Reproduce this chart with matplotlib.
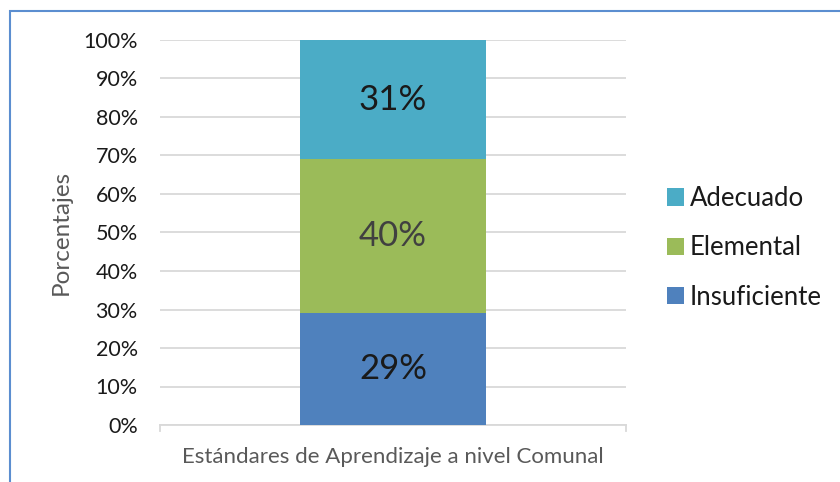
import matplotlib
matplotlib.use("Agg")
import matplotlib.pyplot as plt
from matplotlib.patches import Rectangle
from matplotlib.ticker import FuncFormatter

plt.rcParams['font.family'] = ['Lato', 'DejaVu Sans']

category = ["Estándares de Aprendizaje a nivel Comunal"]
series = ["Insuficiente", "Elemental", "Adecuado"]
values = [29, 40, 31]
colors = ["#4F81BD", "#9BBB59", "#4BACC6"]
label_colors = ["#1a1a1a", "#404040", "#1a1a1a"]
yticks = [0, 10, 20, 30, 40, 50, 60, 70, 80, 90, 100]

fig = plt.figure(figsize=(8.4, 4.82), dpi=100)
ax = fig.add_axes([160/840, 1-425/482, 466/840, 385/482])

bottom = 0
handles = []
for s, v, c, lc in zip(series, values, colors, label_colors):
    b = ax.bar([0], [v], bottom=bottom, width=0.4, color=c, label=s, zorder=3)
    handles.append(b)
    ax.text(0, bottom + v/2, f"{v}%", ha='center', va='center', fontsize=25, color=lc, zorder=4)
    bottom += v

ax.set_xlim(-0.5, 0.5)
ax.set_ylim(0, 100)
ax.set_yticks(yticks)
ax.yaxis.set_major_formatter(FuncFormatter(lambda x, p: f"{int(x)}%"))
ax.set_xticks([0])
ax.set_xticklabels([""])
ax.tick_params(axis='y', length=0, labelsize=15.5, labelcolor="#1a1a1a", pad=16)
ax.tick_params(axis='x', length=0)
ax.grid(axis='y', color="#D9D9D9", linewidth=1.3, zorder=0)
for sp in ['top', 'right', 'left']:
    ax.spines[sp].set_visible(False)
ax.spines['bottom'].set_color("#D9D9D9")
ax.spines['bottom'].set_linewidth(1.3)
for xe in (-0.5, 0.5):
    ax.plot([xe, xe], [0, -1.5], color="#D9D9D9", lw=1.3, clip_on=False, transform=ax.transData)

ax.set_ylabel("Porcentajes", fontsize=17.5, color="#595959", labelpad=8)
ax.set_xlabel(category[0], fontsize=16, color="#595959", labelpad=12)

leg = fig.legend([handles[2], handles[1], handles[0]],
                 [series[2], series[1], series[0]],
                 loc='center left', bbox_to_anchor=(667/840, 1-248/482),
                 frameon=False, fontsize=18.5, handlelength=0.65, handleheight=0.65,
                 handletextpad=0.25, labelspacing=0.95, borderaxespad=0, borderpad=0)
for t in leg.get_texts():
    t.set_color("#1a1a1a")

fig.patches.append(Rectangle((10/840, -0.1), 1.0, (1-11/482)+0.1, transform=fig.transFigure,
                             fill=False, edgecolor="#5B8ED0", linewidth=1.5))

fig.savefig("out.png", dpi=100)
